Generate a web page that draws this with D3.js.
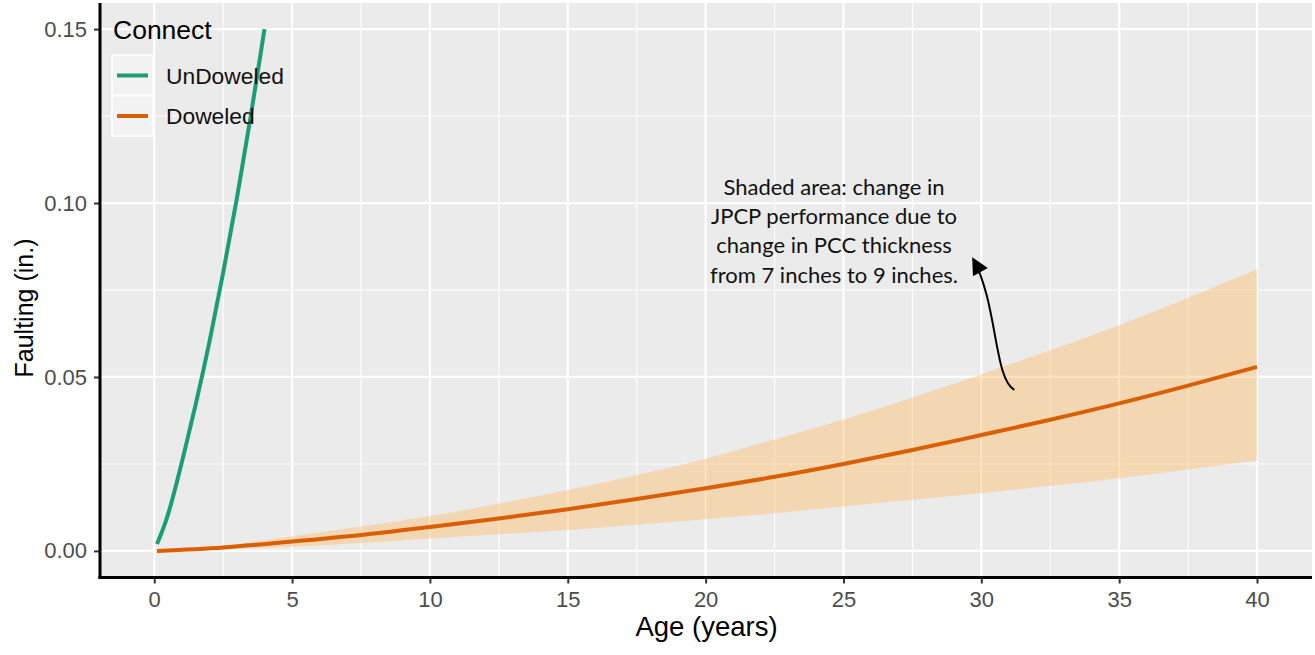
<!DOCTYPE html>
<html>
<head>
<meta charset="utf-8">
<script src="https://cdn.jsdelivr.net/npm/d3@7"></script>
<style>
  body { margin: 0; background: #fff; }
  svg { display: block; }
  text { font-family: "Liberation Sans", Arial, sans-serif; }
</style>
</head>
<body>
<svg id="chart" width="1315" height="655"></svg>
<script>
// values
const age = [0.1, 2.5, 5, 7.5, 10, 12.5, 15, 17.5, 20, 22.5, 25, 27.5, 30, 32.5, 35, 37.5, 40];
const doweled = [0, 0.0010, 0.0027, 0.0046, 0.0069, 0.0093, 0.0120, 0.0149, 0.0180, 0.0213, 0.0250, 0.0290, 0.0333, 0.0377, 0.0424, 0.0475, 0.0529];
const shadeHigh = [0, 0.0015, 0.0042, 0.0070, 0.0100, 0.0136, 0.0175, 0.0218, 0.0265, 0.0320, 0.0378, 0.0440, 0.0508, 0.0577, 0.0649, 0.0728, 0.0810];
const shadeLow = [0, 0.0005, 0.0012, 0.0023, 0.0036, 0.0048, 0.0060, 0.0075, 0.0091, 0.0108, 0.0128, 0.0147, 0.0166, 0.0187, 0.0209, 0.0234, 0.0260];

const undoweledAge = [0.1, 0.5, 1, 1.5, 2, 2.5, 3, 3.5, 4];
const undoweled = [0.0020, 0.0105, 0.0255, 0.0420, 0.0600, 0.0800, 0.1015, 0.1250, 0.1500];

const xTicks = [0, 5, 10, 15, 20, 25, 30, 35, 40];
const xMinor = [2.5, 7.5, 12.5, 17.5, 22.5, 27.5, 32.5, 37.5];
const yTicks = [0, 0.05, 0.10, 0.15];
const yMinor = [0.025, 0.075, 0.125];

const seriesNames = ["UnDoweled", "Doweled"];
const seriesColors = ["#1B9E77", "#D95F02"];

const noteLines = [
  "Shaded area: change in",
  "JPCP performance due to",
  "change in PCC thickness",
  "from 7 inches to 9 inches."
];
// arrow: tail, two control points, head (data units)
const arrowPts = [[31.2, 0.0463], [30.45, 0.0495], [30.6, 0.0710], [29.7, 0.0840]];

let svg = d3.select("#chart");
let panel = {left: 101, right: 1312, top: 3, bottom: 577};

let x = d3.scaleLinear().domain([-1.895, 41.995]).range([panel.left + 1, panel.right]);
let y = d3.scaleLinear().domain([-0.0075, 0.1575]).range([panel.bottom, panel.top]);

// panel + grid
svg.append("rect")
  .attr("x", panel.left).attr("y", panel.top)
  .attr("width", panel.right - panel.left).attr("height", panel.bottom - panel.top)
  .attr("fill", "#EBEBEB");

let grid = svg.append("g");
grid.selectAll(".xm").data(xMinor).enter().append("line")
  .attr("x1", d => x(d)).attr("x2", d => x(d))
  .attr("y1", panel.top).attr("y2", panel.bottom)
  .attr("stroke", "#fff").attr("stroke-width", 1.1);
grid.selectAll(".ym").data(yMinor).enter().append("line")
  .attr("y1", d => y(d)).attr("y2", d => y(d))
  .attr("x1", panel.left).attr("x2", panel.right)
  .attr("stroke", "#fff").attr("stroke-width", 1.1);
grid.selectAll(".xM").data(xTicks).enter().append("line")
  .attr("x1", d => x(d)).attr("x2", d => x(d))
  .attr("y1", panel.top).attr("y2", panel.bottom)
  .attr("stroke", "#fff").attr("stroke-width", 2.2);
grid.selectAll(".yM").data(yTicks).enter().append("line")
  .attr("y1", d => y(d)).attr("y2", d => y(d))
  .attr("x1", panel.left).attr("x2", panel.right)
  .attr("stroke", "#fff").attr("stroke-width", 2.2);

// shaded band
let band = age.map((a, i) => ({a: a, lo: shadeLow[i], hi: shadeHigh[i]}));
svg.append("path")
  .datum(band)
  .attr("d", d3.area().x(d => x(d.a)).y0(d => y(d.lo)).y1(d => y(d.hi)).curve(d3.curveMonotoneX))
  .attr("fill", "#FDBF6F").attr("fill-opacity", 0.45);

// lines
let line = d3.line().x(d => x(d[0])).y(d => y(d[1]));
svg.append("path")
  .datum(undoweledAge.map((a, i) => [a, undoweled[i]]))
  .attr("d", line.curve(d3.curveNatural))
  .attr("fill", "none").attr("stroke", seriesColors[0]).attr("stroke-width", 4);
svg.append("path")
  .datum(age.map((a, i) => [a, doweled[i]]))
  .attr("d", line.curve(d3.curveMonotoneX))
  .attr("fill", "none").attr("stroke", seriesColors[1]).attr("stroke-width", 4);

// axes
let xAxis = svg.append("g")
  .attr("transform", `translate(0,${panel.bottom + 0.5})`)
  .call(d3.axisBottom(x).tickValues(xTicks).tickSize(6).tickPadding(8).tickFormat(d3.format("d")));
let yAxis = svg.append("g")
  .attr("transform", `translate(${panel.left - 1},0)`)
  .call(d3.axisLeft(y).tickValues(yTicks).tickSize(6).tickPadding(7).tickFormat(d3.format(".2f")));
[xAxis, yAxis].forEach(ax => {
  ax.select(".domain").remove();
  ax.selectAll(".tick line").attr("stroke", "#333").attr("stroke-width", 2);
  ax.selectAll(".tick text").attr("fill", "#4D4D4D").style("font-size", "22px")
    .style("font-family", "'Liberation Sans', Arial, sans-serif");
});

svg.append("line")
  .attr("x1", panel.left - 1).attr("x2", panel.left - 1)
  .attr("y1", panel.top).attr("y2", panel.bottom + 2)
  .attr("stroke", "#000").attr("stroke-width", 3);
svg.append("line")
  .attr("x1", panel.left - 2.5).attr("x2", panel.right)
  .attr("y1", panel.bottom + 0.5).attr("y2", panel.bottom + 0.5)
  .attr("stroke", "#000").attr("stroke-width", 3);

// axis titles
svg.append("text")
  .attr("x", (panel.left + panel.right) / 2).attr("y", 636)
  .attr("text-anchor", "middle").style("font-size", "27.5px")
  .text("Age (years)");
svg.append("text")
  .attr("transform", `translate(33,${(panel.top + panel.bottom) / 2 + 18}) rotate(-90)`)
  .attr("text-anchor", "middle").style("font-size", "25px")
  .text("Faulting (in.)");

// annotation
let note = svg.append("text")
  .attr("text-anchor", "middle")
  .style("font-family", "Lato, 'Open Sans', sans-serif")
  .style("font-size", "22px").attr("fill", "#111");
noteLines.forEach((t, i) => {
  note.append("tspan").attr("x", 834).attr("y", 195 + i * 29.2).text(t);
});

svg.append("defs").append("marker")
  .attr("id", "head").attr("viewBox", "0 0 10 10")
  .attr("refX", 9).attr("refY", 5)
  .attr("markerWidth", 19).attr("markerHeight", 17)
  .attr("markerUnits", "userSpaceOnUse")
  .attr("orient", "auto")
  .append("path").attr("d", "M0,0 L10,5 L0,10 Z").attr("fill", "#000");

let ap = arrowPts.map(p => [x(p[0]), y(p[1])]);
svg.append("path")
  .attr("d", `M${ap[0]} C${ap[1]} ${ap[2]} ${ap[3]}`)
  .attr("fill", "none").attr("stroke", "#000").attr("stroke-width", 2)
  .attr("marker-end", "url(#head)");

// legend
let legend = svg.append("g").attr("transform", "translate(112,0)");
legend.append("text").attr("x", 1).attr("y", 39).style("font-size", "26.5px").text("Connect");
let keys = legend.selectAll(".key").data(seriesNames).enter().append("g")
  .attr("transform", (d, i) => `translate(0,${55 + i * 40.5})`);
keys.append("rect")
  .attr("width", 41).attr("height", 40.5)
  .attr("fill", "#F2F2F2").attr("stroke", "#fff").attr("stroke-width", 1.5);
keys.append("line")
  .attr("x1", 5).attr("x2", 36).attr("y1", 20.5).attr("y2", 20.5)
  .attr("stroke", (d, i) => seriesColors[i]).attr("stroke-width", 4);
keys.append("text")
  .attr("x", 54).attr("y", 28.5).style("font-size", "22.8px").attr("fill", "#111")
  .text(d => d);
</script>
</body>
</html>
